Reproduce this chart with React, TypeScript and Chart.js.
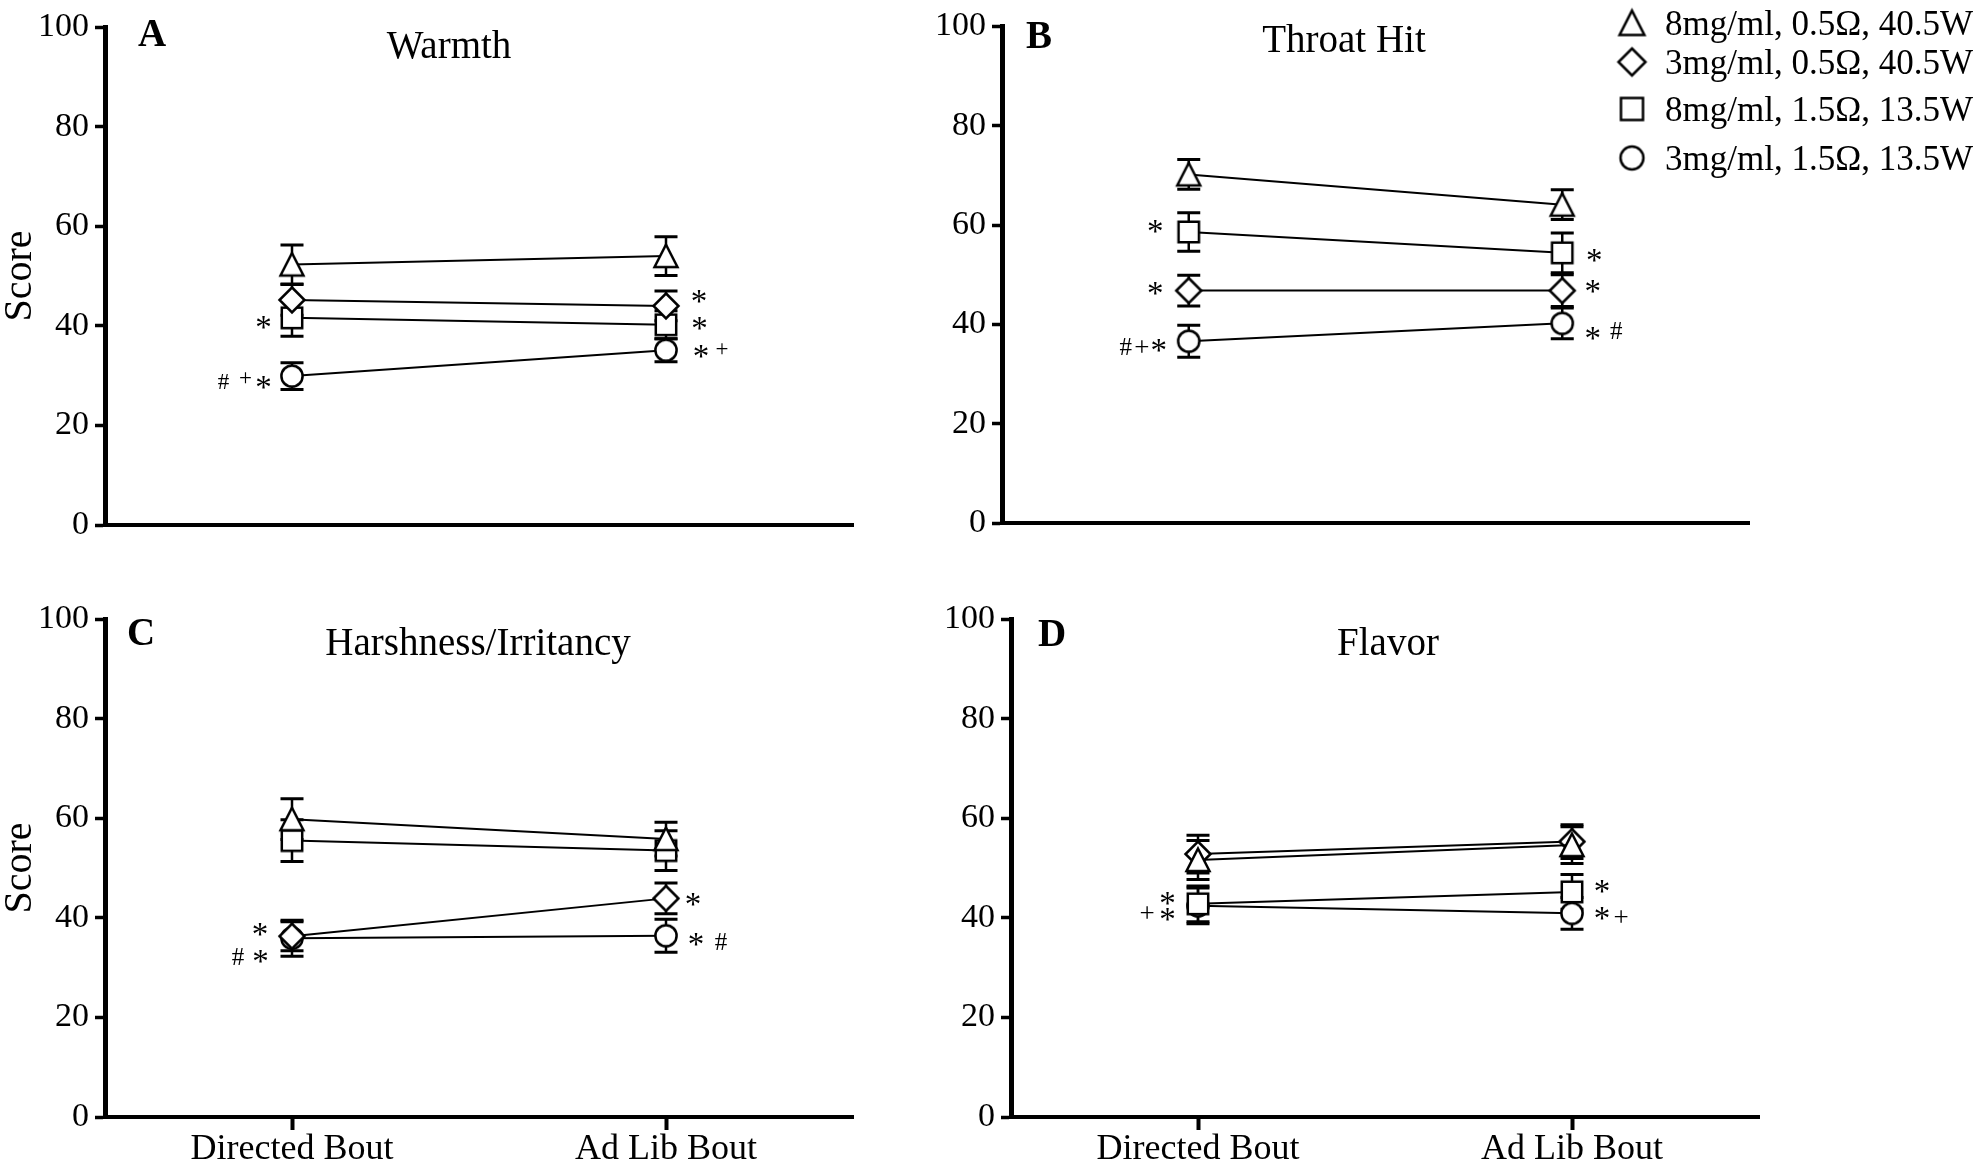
import React, { useEffect, useRef } from 'react';
import { Chart, registerables } from 'chart.js';

Chart.register(...registerables);

// ---------------- data ----------------
const categories = ['Directed Bout', 'Ad Lib Bout'];
const seriesLabels = ['8mg/ml, 0.5Ω, 40.5W', '3mg/ml, 0.5Ω, 40.5W', '8mg/ml, 1.5Ω, 13.5W', '3mg/ml, 1.5Ω, 13.5W'];
const panelLetters = ['A', 'B', 'C', 'D'];
const panelTitles = ['Warmth', 'Throat Hit', 'Harshness/Irritancy', 'Flavor'];
const yTickValues = [0, 20, 40, 60, 80, 100];
const yAxisTitle = 'Score';

// rows: triangle, diamond, square, circle ; columns: Directed, Ad Lib
const warmthMean = [[52.3, 54.0], [45.2, 44.0], [41.6, 40.2], [29.9, 35.1]];
const warmthSem = [[3.9, 3.9], [3.1, 3.0], [3.7, 2.8], [2.7, 2.3]];
const throatHitMean = [[70.2, 64.1], [46.8, 46.8], [58.6, 54.4], [36.6, 40.2]];
const throatHitSem = [[3.0, 3.0], [3.1, 3.2], [3.9, 4.0], [3.2, 3.1]];
const harshnessMean = [[59.8, 55.8], [36.3, 43.9], [55.5, 53.5], [35.9, 36.4]];
const harshnessSem = [[4.1, 3.4], [2.9, 3.1], [4.2, 4.0], [3.6, 3.3]];
const flavorMean = [[51.6, 54.6], [52.8, 55.3], [42.8, 45.2], [42.4, 40.9]];
const flavorSem = [[3.9, 3.7], [3.8, 3.4], [3.6, 3.5], [3.6, 3.2]];

const panelMeans = [warmthMean, throatHitMean, harshnessMean, flavorMean];
const panelSems = [warmthSem, throatHitSem, harshnessSem, flavorSem];

// significance marks: [panel, category, series, text]
const sigMarks: [number, number, number, string][] = [
  [0, 0, 2, '*'], [0, 0, 3, '#'], [0, 0, 3, '+'], [0, 0, 3, '*'],
  [0, 1, 1, '*'], [0, 1, 2, '*'], [0, 1, 3, '*'], [0, 1, 3, '+'],
  [1, 0, 2, '*'], [1, 0, 1, '*'], [1, 0, 3, '#'], [1, 0, 3, '+'], [1, 0, 3, '*'],
  [1, 1, 2, '*'], [1, 1, 1, '*'], [1, 1, 3, '*'], [1, 1, 3, '#'],
  [2, 0, 1, '*'], [2, 0, 3, '#'], [2, 0, 3, '*'],
  [2, 1, 1, '*'], [2, 1, 3, '*'], [2, 1, 3, '#'],
  [3, 0, 2, '*'], [3, 0, 3, '*'], [3, 0, 3, '+'],
  [3, 1, 2, '*'], [3, 1, 3, '*'], [3, 1, 3, '+'],
];
// ---------------- layout / style ----------------
// pixel offsets of each mark from its point (same order as sigMarks)
const sigOffsets: [number, number][] = [
  [-28.5, 5], [-68.5, 5], [-46.5, 2], [-28.5, 6],
  [33, -9], [33.5, -1], [35, 1.5], [56, -1],
  [-33.5, -5], [-33.5, -2], [-63, 5.5], [-47, 5.5], [-30, 4],
  [32, 3], [30.5, -4], [30.5, 10], [54, 7.5],
  [-32, -7], [-54, 18.5], [-31.5, 18.5],
  [27, 1], [30, 4], [55, 6],
  [-30.5, -5.5], [-30.5, 9], [-51, 7],
  [30, -5], [30, 0], [49, 3],
];
// font size per mark in panel A (smaller # and +) vs others
const sigSizes = (p: number, t: string) => (t === '*' ? 33 : p === 0 ? 23 : t === '#' ? 25 : 27);

const FONT = "'Liberation Serif', 'Times New Roman', Times, serif";

const layouts = [
  { left: 0, top: 0, width: 900, height: 580, area: { l: 105, t: 27, r: 853, b: 525 }, letter: { x: 138, y: 46 }, title: { x: 449, y: 58 } },
  { left: 900, top: 0, width: 1081, height: 580, area: { l: 1002, t: 26, r: 1749, b: 523 }, letter: { x: 1026, y: 48 }, title: { x: 1344, y: 52 } },
  { left: 0, top: 580, width: 900, height: 588, area: { l: 105, t: 619, r: 853, b: 1117 }, letter: { x: 127, y: 645 }, title: { x: 478, y: 655 } },
  { left: 900, top: 580, width: 1081, height: 588, area: { l: 1011, t: 619, r: 1759, b: 1117 }, letter: { x: 1038, y: 646 }, title: { x: 1388, y: 655 } },
];

const legendLayout = { markerX: 1632, textX: 1665, rows: [23, 62, 109, 158], font: 35 };

function makeMarker(kind: string, k = 1): HTMLCanvasElement {
  const c = document.createElement('canvas');
  const size = Math.ceil(32 * k);
  c.width = size;
  c.height = size;
  const g = c.getContext('2d')!;
  g.lineWidth = 2.5;
  g.strokeStyle = '#000';
  g.fillStyle = '#fff';
  g.lineJoin = 'miter';
  const m = size / 2;
  g.beginPath();
  if (kind === 'triangle') {
    g.moveTo(m, m - 11.5 * k);
    g.lineTo(m + 11.5 * k, m + 11 * k);
    g.lineTo(m - 11.5 * k, m + 11 * k);
    g.closePath();
  } else if (kind === 'diamond') {
    g.moveTo(m, m - 12.5 * k);
    g.lineTo(m + 12.5 * k, m);
    g.lineTo(m, m + 12.5 * k);
    g.lineTo(m - 12.5 * k, m);
    g.closePath();
  } else if (kind === 'square') {
    g.rect(m - 10.2 * k, m - 10.2 * k, 20.4 * k, 20.4 * k);
  } else {
    g.arc(m, m, 10.6 * k, 0, Math.PI * 2);
  }
  g.fill();
  g.stroke();
  return c;
}

const markerKinds = ['triangle', 'diamond', 'square', 'circle'];

function drawCenteredText(ctx: CanvasRenderingContext2D, text: string, x: number, cy: number, align: CanvasTextAlign = 'center') {
  ctx.textAlign = align;
  ctx.textBaseline = 'alphabetic';
  const m = ctx.measureText(text);
  const base = cy + (m.actualBoundingBoxAscent - m.actualBoundingBoxDescent) / 2;
  ctx.fillText(text, x, base);
}

function Panel({ p }: { p: number }) {
  const ref = useRef<HTMLCanvasElement>(null);
  const L = layouts[p];
  useEffect(() => {
    const canvas = ref.current;
    if (!canvas) return;
    const markers = markerKinds.map((k) => makeMarker(k));
    const legendMarkers = markerKinds.map((k) => makeMarker(k, 1.08));
    const means = panelMeans[p];
    const sems = panelSems[p];
    const isBottom = p >= 2;
    const isLeft = p % 2 === 0;
    const yW = L.area.l - L.left;
    const xH = isBottom ? 48 : 10;
    const padding = {
      left: 0,
      top: L.area.t - L.top,
      right: L.left + L.width - L.area.r,
      bottom: L.top + L.height - L.area.b - xH,
    };

    const errorBars = {
      id: 'errorBars' + p,
      beforeDatasetsDraw(chart: any) {
        const ctx = chart.ctx;
        const ys = chart.scales.y;
        chart.data.datasets.forEach((_ds: any, s: number) => {
          const meta = chart.getDatasetMeta(s);
          meta.data.forEach((pt: any, i: number) => {
            const mval = means[s][i];
            const e = sems[s][i];
            const x = pt.x;
            const yt = ys.getPixelForValue(mval + e);
            const yb = ys.getPixelForValue(mval - e);
            ctx.save();
            ctx.strokeStyle = '#000';
            ctx.lineWidth = 2.5;
            ctx.beginPath();
            ctx.moveTo(x, yt);
            ctx.lineTo(x, yb);
            ctx.stroke();
            ctx.lineWidth = 3;
            ctx.beginPath();
            ctx.moveTo(x - 11.5, yt);
            ctx.lineTo(x + 11.5, yt);
            ctx.moveTo(x - 11.5, yb);
            ctx.lineTo(x + 11.5, yb);
            ctx.stroke();
            ctx.restore();
          });
        });
      },
    };

    const decorations = {
      id: 'decor' + p,
      afterDraw(chart: any) {
        const ctx: CanvasRenderingContext2D = chart.ctx;
        ctx.save();
        ctx.fillStyle = '#000';
        // significance marks
        sigMarks.forEach((mk, k) => {
          if (mk[0] !== p) return;
          const pt = chart.getDatasetMeta(mk[2]).data[mk[1]];
          const [dx, dy] = sigOffsets[k];
          ctx.font = `${sigSizes(p, mk[3])}px ${FONT}`;
          drawCenteredText(ctx, mk[3], pt.x + dx, pt.y + dy);
        });
        // panel letter
        ctx.textAlign = 'left';
        ctx.textBaseline = 'alphabetic';
        ctx.font = `bold 39px ${FONT}`;
        ctx.fillText(panelLetters[p], L.letter.x - L.left, L.letter.y - L.top);
        // panel title
        ctx.textAlign = 'center';
        ctx.font = `39px ${FONT}`;
        ctx.fillText(panelTitles[p], L.title.x - L.left, L.title.y - L.top);
        // legend (drawn with panel B)
        if (p === 1) {
          seriesLabels.forEach((label, s) => {
            const cy = legendLayout.rows[s] - L.top;
            const img = legendMarkers[s];
            ctx.drawImage(img, legendLayout.markerX - L.left - img.width / 2, cy - img.height / 2);
            ctx.textAlign = 'left';
            ctx.textBaseline = 'alphabetic';
            ctx.font = `${legendLayout.font}px ${FONT}`;
            ctx.fillText(label, legendLayout.textX - L.left, cy + 11.5);
          });
        }
        ctx.restore();
      },
    };

    const chart = new Chart(canvas, {
      type: 'line',
      data: {
        labels: categories,
        datasets: seriesLabels.map((label, s) => ({
          label,
          data: means[s],
          borderColor: '#000',
          borderWidth: 2,
          backgroundColor: '#fff',
          pointStyle: markers[s] as any,
          pointRadius: 12,
          pointHoverRadius: 12,
          tension: 0,
          fill: false,
        })),
      },
      options: {
        responsive: false,
        animation: false,
        events: [],
        devicePixelRatio: 1,
        layout: { padding },
        plugins: {
          legend: { display: false },
          tooltip: { enabled: false },
          title: { display: false },
        },
        scales: {
          x: {
            type: 'category',
            offset: true,
            grid: {
              offset: false,
              drawOnChartArea: false,
              drawTicks: isBottom,
              tickLength: 13,
              tickWidth: 4,
              tickColor: '#000',
            },
            border: { display: true, color: '#000', width: 4 },
            ticks: {
              display: isBottom,
              color: '#000',
              font: { family: FONT, size: 36, lineHeight: 1 },
              padding: 2,
              maxRotation: 0,
              autoSkip: false,
            },
            afterFit: (s: any) => {
              s.height = xH;
            },
          },
          y: {
            type: 'linear',
            min: 0,
            max: 100,
            afterBuildTicks: (s: any) => {
              s.ticks = yTickValues.map((v) => ({ value: v }));
            },
            grid: {
              drawOnChartArea: false,
              drawTicks: true,
              tickLength: 10,
              tickWidth: 3.5,
              tickColor: '#000',
            },
            border: { display: true, color: '#000', width: 5 },
            ticks: {
              color: '#000',
              font: { family: FONT, size: 34 },
              padding: 6,
            },
            title: {
              display: isLeft,
              text: yAxisTitle,
              color: '#000',
              font: { family: FONT, size: 40, lineHeight: 1 },
              padding: { top: 0, bottom: 0 },
            },
            afterFit: (s: any) => {
              s.width = yW;
            },
          },
        },
      } as any,
      plugins: [errorBars, decorations],
    });
    return () => chart.destroy();
  }, [p]);
  return (
    <canvas
      ref={ref}
      width={L.width}
      height={L.height}
      style={{ position: 'absolute', left: L.left, top: L.top }}
    />
  );
}

export default function App() {
  return (
    <div style={{ position: 'absolute', left: 0, top: 0, width: 1981, height: 1168, background: '#fff' }}>
      {[0, 1, 2, 3].map((p) => (
        <Panel key={p} p={p} />
      ))}
    </div>
  );
}
